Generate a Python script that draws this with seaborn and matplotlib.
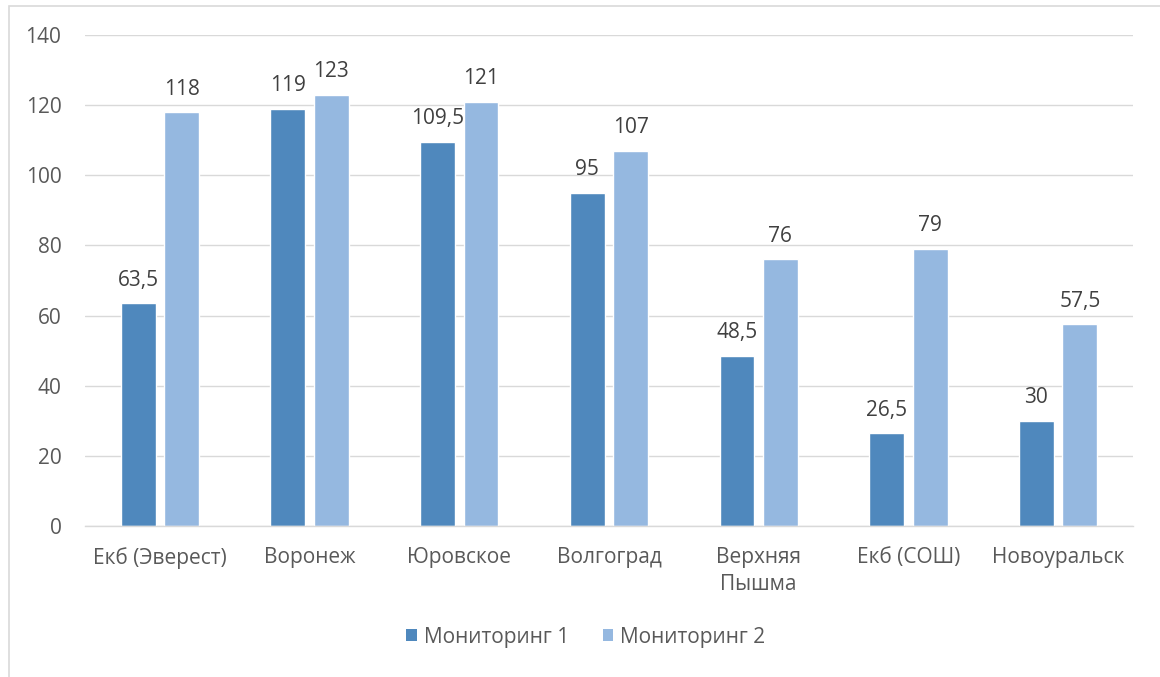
import matplotlib
matplotlib.use("Agg")
import matplotlib.pyplot as plt
import seaborn as sns
import pandas as pd
from matplotlib.patches import Rectangle, Patch

categories = ["Екб (Эверест)", "Воронеж", "Юровское", "Волгоград", "Верхняя\nПышма", "Екб (СОШ)", "Новоуральск"]
series_names = ["Мониторинг 1", "Мониторинг 2"]
monitoring1 = [63.5, 119, 109.5, 95, 48.5, 26.5, 30]
monitoring2 = [118, 123, 121, 107, 76, 79, 57.5]
yticks = [0, 20, 40, 60, 80, 100, 120, 140]

colors = ["#4f88bd", "#95b8e0"]
text_color = "#595959"
FS = 15

sns.set_theme(style="white")
plt.rcParams['font.family'] = ['Open Sans', 'DejaVu Sans']

df = pd.DataFrame({
    "cat": categories * 2,
    "series": [series_names[0]] * len(categories) + [series_names[1]] * len(categories),
    "value": monitoring1 + monitoring2,
})

fig = plt.figure(figsize=(11.6, 6.77), dpi=100)
ax = fig.add_axes([85/1160, 1 - 526/677, (1133-85)/1160, (526-35)/677])

sns.barplot(data=df, x="cat", y="value", hue="series", order=categories,
            hue_order=series_names, palette=colors, width=0.58, gap=0.2,
            ax=ax, legend=False, saturation=1)

ax.set_ylim(0, 140)
ax.set_xlim(-0.5, len(categories) - 0.5)
ax.set_yticks(yticks)
ax.set_yticklabels([str(t) for t in yticks], color=text_color, fontsize=FS)
ax.tick_params(axis='x', colors=text_color, labelsize=FS, length=0, pad=15)
ax.tick_params(axis='y', length=0, pad=17)
for lbl in ax.get_xticklabels():
    lbl.set_color(text_color)
    lbl.set_linespacing(1.4)
ax.set_xlabel("")
ax.set_ylabel("")
ax.grid(axis='y', color="#d9d9d9", linewidth=1)
ax.set_axisbelow(True)
for s in ["top", "right", "left"]:
    ax.spines[s].set_visible(False)
ax.spines["bottom"].set_color("#d9d9d9")
ax.spines["bottom"].set_linewidth(1)

def fmt(v):
    return ("%g" % v).replace(".", ",")

for cont in ax.containers:
    ax.bar_label(cont, labels=[fmt(b.get_height()) for b in cont], padding=9,
                 color="#404040", fontsize=FS)

handles = [Patch(facecolor=c, edgecolor='none') for c in colors]
fig.legend(handles, series_names, loc="center", bbox_to_anchor=(0.505, 1 - 637/677),
           ncol=2, frameon=False, fontsize=FS, handlelength=0.5, handleheight=0.5,
           handletextpad=0.35, columnspacing=1.6, labelcolor=text_color)

fig.patches.append(Rectangle((9/1160, -0.1), 1.2, 1 - 6/677 + 0.1, transform=fig.transFigure,
                             fill=False, edgecolor="#d9d9d9", linewidth=1.2, figure=fig))

fig.savefig("out.png", dpi=100)
